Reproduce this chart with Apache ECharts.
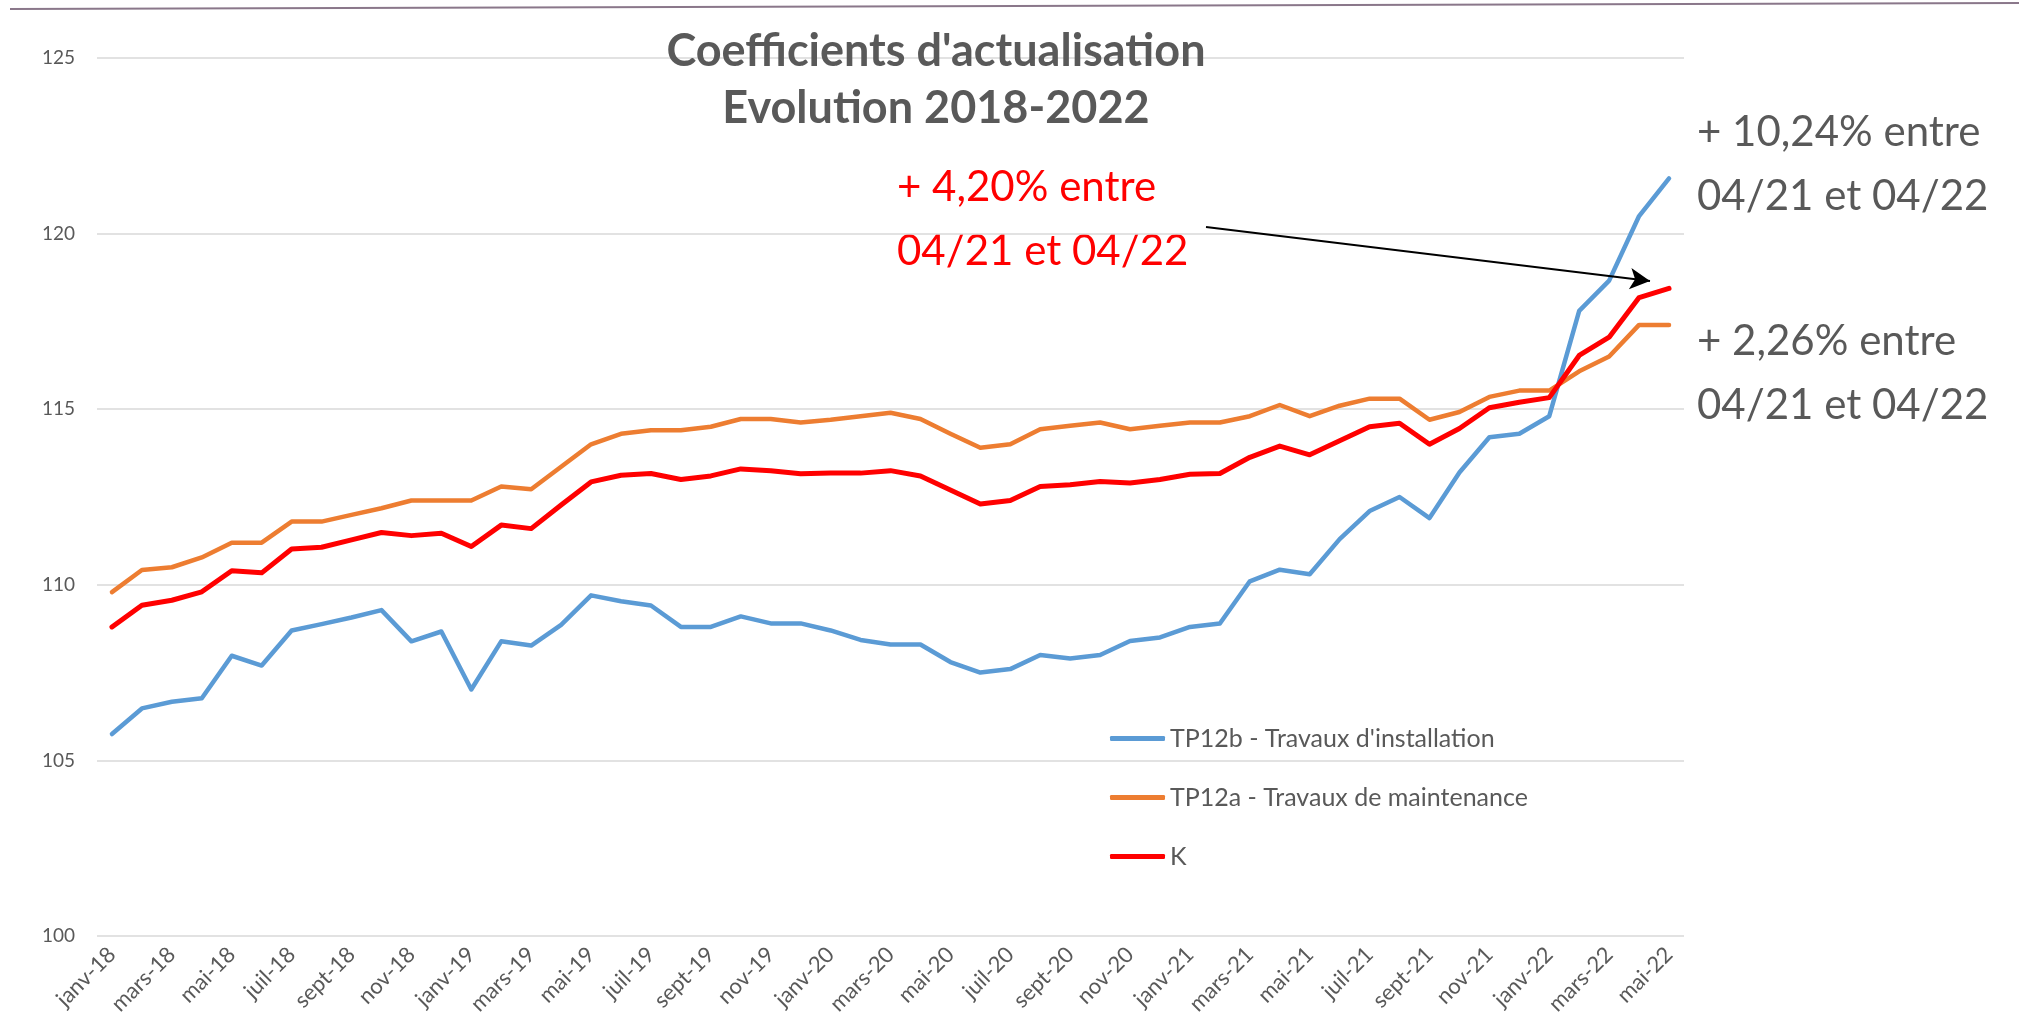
<!DOCTYPE html>
<html>
<head>
<meta charset="utf-8">
<script src="https://cdn.jsdelivr.net/npm/echarts@6/dist/echarts.min.js"></script>
<style>
  html, body {margin: 0; padding: 0; background: #fff;}
  #chart {width: 2019px; height: 1024px;}
</style>
</head>
<body>
<div id="chart"></div>
<script>
const monthNames = ['janv', 'févr', 'mars', 'avr', 'mai', 'juin', 'juil', 'août', 'sept', 'oct', 'nov', 'déc'];
const years = ['18', '19', '20', '21', '22'];
const monthsInLastYear = 5;

const categories = [];
years.forEach((y, yi) => {
    const n = yi === years.length - 1 ? monthsInLastYear : 12;
    for (let m = 0; m < n; m++) categories.push(monthNames[m] + '-' + y);
});

const tp12b = [105.75, 106.48, 106.67, 106.77, 107.98, 107.7, 108.7, 108.88, 109.07, 109.28, 108.39, 108.67,
    107.02, 108.39, 108.27, 108.86, 109.7, 109.53, 109.41, 108.8, 108.8, 109.1, 108.9, 108.9,
    108.7, 108.43, 108.3, 108.3, 107.8, 107.5, 107.6, 108.0, 107.9, 108.0, 108.4, 108.5,
    108.8, 108.9, 110.1, 110.43, 110.3, 111.3, 112.1, 112.5, 111.9, 113.2, 114.2, 114.3,
    114.8, 117.8, 118.66, 120.5, 121.57];
const tp12a = [109.79, 110.42, 110.5, 110.78, 111.2, 111.2, 111.8, 111.8, 111.99, 112.18, 112.4, 112.4,
    112.4, 112.8, 112.72, 113.36, 114.0, 114.3, 114.4, 114.4, 114.5, 114.72, 114.72, 114.62,
    114.7, 114.8, 114.9, 114.72, 114.3, 113.9, 114.0, 114.43, 114.53, 114.62, 114.43, 114.53,
    114.62, 114.62, 114.8, 115.12, 114.8, 115.1, 115.3, 115.3, 114.7, 114.92, 115.35, 115.53,
    115.53, 116.08, 116.5, 117.4, 117.4];
const indiceK = [108.8, 109.42, 109.56, 109.8, 110.4, 110.34, 111.02, 111.07, 111.28, 111.49, 111.4, 111.47,
    111.09, 111.7, 111.6, 112.27, 112.93, 113.12, 113.17, 113.0, 113.1, 113.3, 113.25, 113.16,
    113.18, 113.18, 113.25, 113.1, 112.7, 112.3, 112.4, 112.8, 112.85, 112.94, 112.9, 113.0,
    113.15, 113.17, 113.63, 113.95, 113.7, 114.1, 114.5, 114.6, 114.0, 114.45, 115.04, 115.2,
    115.33, 116.53, 117.05, 118.18, 118.44];

const seriesNames = ['TP12b - Travaux d\'installation', 'TP12a - Travaux de maintenance', 'K'];
const yTicks = {min: 100, max: 125, interval: 5};

const FONT = 'Lato, "Open Sans", sans-serif';
const GREY = '#595959';

const chart = echarts.init(document.getElementById('chart'));
chart.setOption({
    backgroundColor: '#fff',
    animation: false,
    textStyle: {fontFamily: FONT},
    title: {
        text: 'Coefficients d\'actualisation\nEvolution 2018-2022',
        left: 931,
        top: 18,
        textAlign: 'center',
        textStyle: {
            fontFamily: FONT,
            fontSize: 45,
            fontWeight: 'bold',
            color: GREY,
            lineHeight: 57
        }
    },
    legend: {
        orient: 'vertical',
        left: 1105,
        top: 721,
        itemWidth: 55,
        itemHeight: 5,
        itemGap: 34,
        icon: 'roundRect',
        textStyle: {fontFamily: FONT, fontSize: 25, color: GREY, lineHeight: 25},
        data: seriesNames
    },
    grid: {
        left: 97,
        right: 335,
        top: 58,
        bottom: 88,
        containLabel: false
    },
    xAxis: {
        type: 'category',
        data: categories,
        boundaryGap: true,
        axisLine: {show: false},
        axisTick: {show: false},
        axisLabel: {
            interval: 1,
            rotate: 45,
            fontSize: 22,
            color: GREY,
            margin: 15,
            fontFamily: FONT
        }
    },
    yAxis: {
        type: 'value',
        min: yTicks.min,
        max: yTicks.max,
        interval: yTicks.interval,
        axisLine: {show: false},
        axisTick: {show: false},
        axisLabel: {fontSize: 19, color: GREY, margin: 22, fontFamily: FONT},
        splitLine: {lineStyle: {color: '#d9d9d9', width: 1.5}}
    },
    series: [
        {
            name: seriesNames[0],
            type: 'line',
            data: tp12b,
            symbol: 'none',
            lineStyle: {color: '#5b9bd5', width: 4.5, cap: 'round', join: 'round'},
            itemStyle: {color: '#5b9bd5'}
        },
        {
            name: seriesNames[1],
            type: 'line',
            data: tp12a,
            symbol: 'none',
            lineStyle: {color: '#ed7d31', width: 4.5, cap: 'round', join: 'round'},
            itemStyle: {color: '#ed7d31'}
        },
        {
            name: seriesNames[2],
            type: 'line',
            data: indiceK,
            symbol: 'none',
            lineStyle: {color: '#ff0000', width: 5, cap: 'round', join: 'round'},
            itemStyle: {color: '#ff0000'},
            markLine: {
                silent: true,
                symbol: ['none', 'arrow'],
                symbolSize: [16, 20],
                label: {show: false},
                lineStyle: {color: '#000', width: 2, type: 'solid'},
                data: [[{x: 1206, y: 227}, {x: 1650, y: 281}]]
            }
        }
    ],
    graphic: [
        {
            type: 'line',
            shape: {x1: 10, y1: 9, x2: 2019, y2: 3},
            style: {stroke: '#8a778a', lineWidth: 2}
        },
        {
            type: 'text',
            left: 897,
            top: 155,
            style: {
                text: '+ 4,20% entre\n04/21 et 04/22',
                fill: '#ff0000',
                font: '42px ' + FONT,
                lineHeight: 64
            }
        },
        {
            type: 'text',
            left: 1697,
            top: 100,
            style: {
                text: '+ 10,24% entre\n04/21 et 04/22',
                fill: GREY,
                font: '42px ' + FONT,
                lineHeight: 64
            }
        },
        {
            type: 'text',
            left: 1697,
            top: 309,
            style: {
                text: '+ 2,26% entre\n04/21 et 04/22',
                fill: GREY,
                font: '42px ' + FONT,
                lineHeight: 64
            }
        }
    ]
});
</script>
</body>
</html>
